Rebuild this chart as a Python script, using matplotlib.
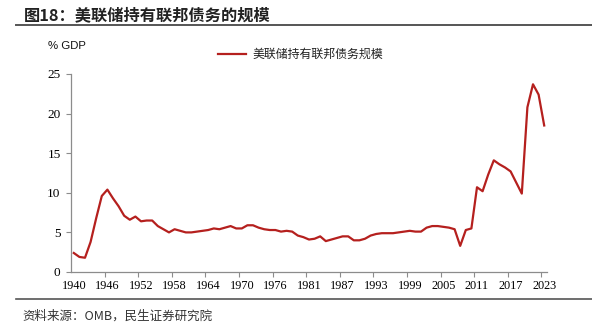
import numpy as np
import matplotlib
matplotlib.use("Agg")
from matplotlib import pyplot as plt
from matplotlib.lines import Line2D

plt.rcParams['font.family'] = ['Noto Sans CJK SC', 'DejaVu Sans']

# fiscal years from OMB table, incl. the 1976 transition quarter
years = [str(y) for y in range(1940, 1977)] + ["TQ"] + [str(y) for y in range(1977, 2024)]
fed_share = [2.4, 1.9, 1.8, 3.8, 6.8, 9.6, 10.4, 9.3, 8.3, 7.1,
             6.6, 7.0, 6.4, 6.5, 6.5, 5.8, 5.4, 5.0, 5.4, 5.2,
             5.0, 5.0, 5.1, 5.2, 5.3, 5.5, 5.4, 5.6, 5.8, 5.5,
             5.5, 5.9, 5.9, 5.6, 5.4, 5.3, 5.3, 5.1, 5.2, 5.1,
             4.6, 4.4, 4.1, 4.2, 4.5, 3.9, 4.1, 4.3, 4.5, 4.5,
             4.0, 4.0, 4.2, 4.6, 4.8, 4.9, 4.9, 4.9, 5.0, 5.1,
             5.2, 5.1, 5.1, 5.6, 5.8, 5.8, 5.7, 5.6, 5.4, 3.3,
             5.3, 5.5, 10.7, 10.2, 12.3, 14.1, 13.6, 13.2, 12.7, 11.3,
             9.9, 20.8, 23.7, 22.4, 18.5]
yticks = [0, 5, 10, 15, 20, 25]
label_step = 6

red = '#B5201E'
grey = '#8C8C8C'

fig = plt.figure(figsize=(5.92, 3.31), dpi=100)
ax = fig.add_axes([71/592, 1-272/331, 476/592, 198/331])

x = np.arange(len(years)) + 0.5
ax.plot(x, fed_share, color=red, lw=1.6, solid_joinstyle='round')

ax.set_xlim(0, len(years))
ax.set_ylim(0, 25)

# labels centred on categories, tick marks between them
lab_idx = list(range(0, len(years), label_step))
ax.set_xticks([i + 0.5 for i in lab_idx])
ax.set_xticklabels([years[i] for i in lab_idx], family='Liberation Serif', fontsize=8.8)
ax.set_xticks(lab_idx[1:], minor=True)
ax.tick_params(axis='x', which='major', length=0, pad=6)
ax.tick_params(axis='x', which='minor', length=3.5, color=grey, width=0.8, direction='out')

ax.set_yticks(yticks)
ax.set_yticklabels([str(v) for v in yticks], family='Liberation Serif', fontsize=9.5)
ax.tick_params(axis='y', length=3.5, color=grey, width=0.8, direction='out', pad=4)

for s in ['top', 'right']:
    ax.spines[s].set_visible(False)
for s in ['left', 'bottom']:
    ax.spines[s].set_color(grey)
    ax.spines[s].set_linewidth(0.9)

# title and frame lines
fig.text(24/592, 1-15/331, "图18：美联储持有联邦债务的规模", fontsize=11.7, fontweight='bold',
         color='#222222', va='center', ha='left')
fig.add_artist(Line2D([16/592, 1.0], [1-25/331, 1-25/331], color='#555555', lw=1.4))
fig.add_artist(Line2D([16/592, 1.0], [1-299/331, 1-299/331], color='#555555', lw=1.2))
fig.text(22/592, 1-316/331, "资料来源：OMB，民生证券研究院", fontsize=9, color='#333333',
         va='center', ha='left')

fig.text(48/592, 1-46/331, "% GDP", fontsize=8.2, color='#111111', va='center', ha='left',
         family=['Liberation Sans', 'DejaVu Sans'])

# legend
fig.add_artist(Line2D([218/592, 246/592], [1-54/331, 1-54/331], color=red, lw=1.6))
fig.text(252/592, 1-54/331, "美联储持有联邦债务规模", fontsize=8.6, color='#222222',
         va='center', ha='left')

fig.savefig("out.png", dpi=100)
